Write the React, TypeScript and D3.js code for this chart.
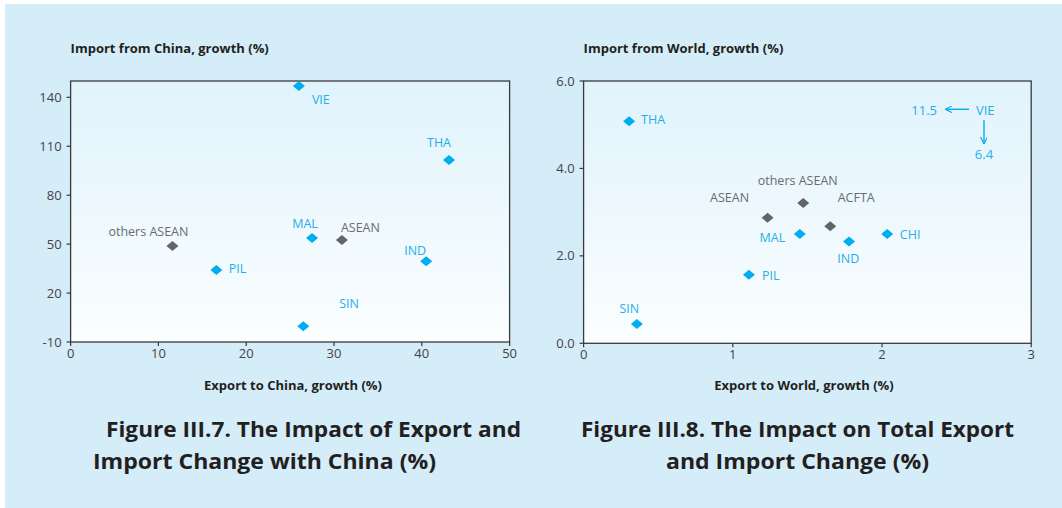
import React from "react";
import * as d3 from "d3";

// ---------- Data ----------
// Figure III.7: Export to China growth (%) vs Import from China growth (%)
const chinaNames = ["VIE", "THA", "MAL", "ASEAN", "others ASEAN", "PIL", "IND", "SIN"];
const chinaExport = [26.0, 43.1, 27.5, 30.9, 11.6, 16.6, 40.5, 26.5];
const chinaImport = [147, 101.5, 53.8, 52.5, 48.9, 34.1, 39.5, -0.4];
const chinaGroup = ["country", "country", "country", "aggregate", "aggregate", "country", "country", "country"];

// Figure III.8: Export to World growth (%) vs Import from World growth (%)
const worldNames = ["THA", "ASEAN", "others ASEAN", "ACFTA", "MAL", "IND", "CHI", "PIL", "SIN"];
const worldExport = [0.305, 1.233, 1.472, 1.653, 1.449, 1.779, 2.035, 1.108, 0.357];
const worldImport = [5.08, 2.87, 3.21, 2.68, 2.5, 2.33, 2.5, 1.57, 0.44];
const worldGroup = ["country", "aggregate", "aggregate", "aggregate", "country", "country", "country", "country", "country"];
// VIE is off the chart in Figure III.8
const vieOffChart = { name: "VIE", left: "11.5", down: "6.4" };

const chinaXTicks = [0, 10, 20, 30, 40, 50];
const chinaYTicks = [-10, 20, 50, 80, 110, 140];
const worldXTicks = [0, 1, 2, 3];
const worldYTicks = [0, 2, 4, 6];

// ---------- Label placement (pixels relative to point) ----------
type Place = { dx: number; dy: number; anchor: "start" | "middle" | "end" };
const chinaLabelPlace: Record<string, Place> = {
  VIE: { dx: 13, dy: 14, anchor: "start" },
  THA: { dx: -10, dy: -17, anchor: "middle" },
  MAL: { dx: -7, dy: -14, anchor: "middle" },
  ASEAN: { dx: -1, dy: -12, anchor: "start" },
  "others ASEAN": { dx: -24, dy: -14, anchor: "middle" },
  PIL: { dx: 12.5, dy: -1, anchor: "start" },
  IND: { dx: 0, dy: -11, anchor: "end" },
  SIN: { dx: 36, dy: -23, anchor: "start" },
};
const worldLabelPlace: Record<string, Place> = {
  THA: { dx: 12, dy: -2, anchor: "start" },
  ASEAN: { dx: -18.5, dy: -20, anchor: "end" },
  "others ASEAN": { dx: -5.5, dy: -22.5, anchor: "middle" },
  ACFTA: { dx: 7.5, dy: -29, anchor: "start" },
  MAL: { dx: -14.5, dy: 3.3, anchor: "end" },
  IND: { dx: -0.7, dy: 17, anchor: "middle" },
  CHI: { dx: 12.6, dy: 1, anchor: "start" },
  PIL: { dx: 13, dy: 1, anchor: "start" },
  SIN: { dx: -7.6, dy: -15.3, anchor: "middle" },
};

const BG = "#d5ecf9";
const BLUE = "#00aeef";
const BLUE_TEXT = "#27aee8";
const GRAY = "#636466";
const GRAY_TEXT = "#6a6b6e";
const DARK = "#231f20";
const AXIS = "#3a3a3a";
const FONT = "'Open Sans', 'Noto Sans', sans-serif";

const diamond = "M0,-5 L6,0 L0,5 L-6,0 Z";

type PanelProps = {
  id: string;
  x0: number; x1: number; y0: number; y1: number;
  xDomain: [number, number]; yDomain: [number, number];
  xTicks: number[]; yTicks: number[];
  xFmt: (v: number) => string; yFmt: (v: number) => string;
  names: string[]; xs: number[]; ys: number[]; groups: string[];
  place: Record<string, Place>;
  yTitle: string; xTitle: string; xTitleX: number;
  children?: (sx: d3.ScaleLinear<number, number>, sy: d3.ScaleLinear<number, number>) => React.ReactNode;
};

function Panel(p: PanelProps) {
  const sx = d3.scaleLinear().domain(p.xDomain).range([p.x0, p.x1]);
  const sy = d3.scaleLinear().domain(p.yDomain).range([p.y1, p.y0]);
  return (
    <g>
      <defs>
        <linearGradient id={`grad-${p.id}`} x1="0" y1="0" x2="0" y2="1">
          <stop offset="0%" stopColor="#e0f3fc" />
          <stop offset="100%" stopColor="#fbfeff" />
        </linearGradient>
      </defs>
      <rect x={p.x0} y={p.y0} width={p.x1 - p.x0} height={p.y1 - p.y0}
        fill={`url(#grad-${p.id})`} stroke={AXIS} strokeWidth={1.3} />
      {p.yTicks.map((t) => (
        <g key={"y" + t}>
          <line x1={p.x0 - 4} x2={p.x0} y1={sy(t)} y2={sy(t)} stroke={AXIS} strokeWidth={1.2} />
          <text x={p.x0 - 9} y={sy(t)} dy="0.35em" textAnchor="end" fontSize={13}
            fill="#444" fontFamily={FONT}>{p.yFmt(t)}</text>
        </g>
      ))}
      {p.xTicks.map((t) => (
        <g key={"x" + t}>
          <line x1={sx(t)} x2={sx(t)} y1={p.y1} y2={p.y1 + 4} stroke={AXIS} strokeWidth={1.2} />
          <text x={sx(t)} y={p.y1 + 16} textAnchor="middle" fontSize={13}
            fill="#444" fontFamily={FONT}>{p.xFmt(t)}</text>
        </g>
      ))}
      <text x={p.x0} y={53} fontSize={13} fontWeight={700} fill={DARK} fontFamily={FONT}>{p.yTitle}</text>
      <text x={p.xTitleX} y={390} textAnchor="middle" fontSize={13} fontWeight={700} fill={DARK}
        fontFamily={FONT}>{p.xTitle}</text>
      {p.names.map((n, i) => {
        const cx = sx(p.xs[i]);
        const cy = sy(p.ys[i]);
        const agg = p.groups[i] === "aggregate";
        const pl = p.place[n];
        return (
          <g key={n}>
            <path d={diamond} transform={`translate(${cx},${cy})`} fill={agg ? GRAY : BLUE} />
            <text x={cx + pl.dx} y={cy + pl.dy} dy="0.35em" textAnchor={pl.anchor} fontSize={12.5}
              fill={agg ? GRAY_TEXT : BLUE_TEXT} fontFamily={FONT}>{n}</text>
          </g>
        );
      })}
      {p.children && p.children(sx, sy)}
    </g>
  );
}

export default function App() {
  const titleProps = { fontSize: 22, fontWeight: 700, fill: DARK, fontFamily: FONT, lengthAdjust: "spacingAndGlyphs" as const };
  return (
    <svg width={1062} height={508} style={{ position: "absolute", left: 0, top: 0 }}
      xmlns="http://www.w3.org/2000/svg">
      <rect x={0} y={0} width={1062} height={508} fill="#ffffff" />
      <rect x={5} y={4} width={1057} height={504} fill={BG} />
      <defs>
        <marker id="arrowhead" viewBox="0 0 10 10" refX="9" refY="5" markerWidth="7" markerHeight="7"
          orient="auto-start-reverse" markerUnits="userSpaceOnUse">
          <path d="M0,0 L10,5 L0,10" fill="none" stroke={BLUE} strokeWidth={1.6} />
        </marker>
      </defs>

      <Panel id="china" x0={70.6} x1={509.6} y0={81} y1={342}
        xDomain={[0, 50]} yDomain={[-10, 150]} xTicks={chinaXTicks} yTicks={chinaYTicks}
        xFmt={(v) => String(v)} yFmt={(v) => String(v)}
        names={chinaNames} xs={chinaExport} ys={chinaImport} groups={chinaGroup}
        place={chinaLabelPlace}
        yTitle="Import from China, growth (%)" xTitle="Export to China, growth (%)" xTitleX={293} />

      <Panel id="world" x0={583.6} x1={1031.2} y0={81} y1={343.3}
        xDomain={[0, 3]} yDomain={[0, 6]} xTicks={worldXTicks} yTicks={worldYTicks}
        xFmt={(v) => String(v)} yFmt={(v) => v.toFixed(1)}
        names={worldNames} xs={worldExport} ys={worldImport} groups={worldGroup}
        place={worldLabelPlace}
        yTitle="Import from World, growth (%)" xTitle="Export to World, growth (%)" xTitleX={804}>
        {(sx, sy) => {
          const ax = sx(2.63);
          const ay = sy(5.33);
          return (
            <g fontFamily={FONT} fontSize={13} fill={BLUE_TEXT}>
              <text x={ax} y={ay} dy="0.35em">{vieOffChart.name}</text>
              <line x1={ax - 7} y1={ay - 1} x2={ax - 30} y2={ay - 1} stroke={BLUE} strokeWidth={1.4}
                markerEnd="url(#arrowhead)" />
              <text x={ax - 39} y={ay} dy="0.35em" textAnchor="end">{vieOffChart.left}</text>
              <line x1={ax + 8} y1={ay + 10} x2={ax + 8} y2={ay + 33} stroke={BLUE} strokeWidth={1.4}
                markerEnd="url(#arrowhead)" />
              <text x={ax + 8} y={ay + 44} dy="0.35em" textAnchor="middle">{vieOffChart.down}</text>
            </g>
          );
        }}
      </Panel>

      <text x={106} y={437} textLength={415} {...titleProps}>Figure III.7. The Impact of Export and</text>
      <text x={93} y={469} textLength={343} {...titleProps}>Import Change with China (%)</text>
      <text x={581} y={437} textLength={433} {...titleProps}>Figure III.8. The Impact on Total Export</text>
      <text x={666} y={469} textLength={263} {...titleProps}>and Import Change (%)</text>
    </svg>
  );
}
